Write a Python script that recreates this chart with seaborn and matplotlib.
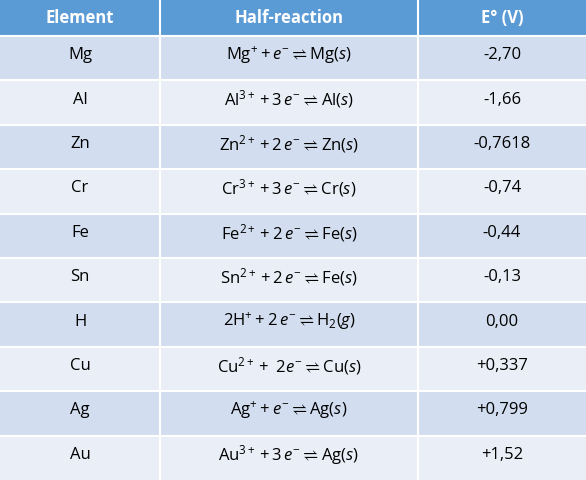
import numpy as np
import matplotlib
matplotlib.use("Agg")
import matplotlib.pyplot as plt
import seaborn as sns
from matplotlib.colors import ListedColormap

headers = ["Element", "Half-reaction", "E° (V)"]
elements = ["Mg", "Al", "Zn", "Cr", "Fe", "Sn", "H", "Cu", "Ag", "Au"]
reactions = [
    r"$\mathrm{Mg^{+}} + \mathit{e^{-}} \rightleftharpoons \mathrm{Mg}(\mathit{s})$",
    r"$\mathrm{Al^{3+}} + 3\,\mathit{e^{-}} \rightleftharpoons \mathrm{Al}(\mathit{s})$",
    r"$\mathrm{Zn^{2+}} + 2\,\mathit{e^{-}} \rightleftharpoons \mathrm{Zn}(\mathit{s})$",
    r"$\mathrm{Cr^{3+}} + 3\,\mathit{e^{-}} \rightleftharpoons \mathrm{Cr}(\mathit{s})$",
    r"$\mathrm{Fe^{2+}} + 2\,\mathit{e^{-}} \rightleftharpoons \mathrm{Fe}(\mathit{s})$",
    r"$\mathrm{Sn^{2+}} + 2\,\mathit{e^{-}} \rightleftharpoons \mathrm{Fe}(\mathit{s})$",
    r"$\mathrm{2H^{+}} + 2\,\mathit{e^{-}} \rightleftharpoons \mathrm{H_2}(\mathit{g})$",
    r"$\mathrm{Cu^{2+}} +\ 2\mathit{e^{-}} \rightleftharpoons \mathrm{Cu}(\mathit{s})$",
    r"$\mathrm{Ag^{+}} + \mathit{e^{-}} \rightleftharpoons \mathrm{Ag}(\mathit{s})$",
    r"$\mathrm{Au^{3+}} + 3\,\mathit{e^{-}} \rightleftharpoons \mathrm{Ag}(\mathit{s})$",
]
potentials = ["-2,70", "-1,66", "-0,7618", "-0,74", "-0,44", "-0,13", "0,00",
              "+0,337", "+0,799", "+1,52"]

W, H = 586, 480
col_edges = [0, 160, 418, 586]
row_edges = [0, 36] + [int(round(36 + 44.4 * i)) for i in range(1, 11)]
row_edges[-1] = H

grid = np.zeros((H, W))
for i in range(1, 11):
    grid[row_edges[i]:row_edges[i + 1], :] = 1 if i % 2 == 1 else 2

plt.rcParams['font.family'] = ['Open Sans', 'DejaVu Sans']
plt.rcParams['mathtext.fontset'] = 'custom'
plt.rcParams['mathtext.rm'] = 'Open Sans'
plt.rcParams['mathtext.it'] = 'Open Sans:italic'
plt.rcParams['mathtext.fallback'] = 'stix'

fig = plt.figure(figsize=(5.86, 4.8), dpi=100)
ax = fig.add_axes([0, 0, 1, 1])
cmap = ListedColormap(["#5B9BD5", "#D2DEEF", "#EAEFF7"])
sns.heatmap(grid, ax=ax, cmap=cmap, vmin=-0.5, vmax=2.5, cbar=False,
            xticklabels=False, yticklabels=False, rasterized=True)

for x in col_edges[1:-1]:
    ax.plot([x, x], [0, H], color="white", lw=1.5)
for y in row_edges[1:-1]:
    ax.plot([0, W], [y, y], color="white", lw=1.5)

centers_x = [(col_edges[j] + col_edges[j + 1]) / 2 for j in range(3)]
for j, h in enumerate(headers):
    ax.text(centers_x[j], row_edges[1] / 2, h, ha="center", va="center",
            color="black" if False else "white", fontsize=12, fontweight="bold")
for i in range(10):
    yc = (row_edges[i + 1] + row_edges[i + 2]) / 2 - 3
    ax.text(centers_x[0], yc, elements[i], ha="center", va="center", fontsize=12)
    ax.text(centers_x[1], yc, reactions[i], ha="center", va="center", fontsize=12)
    ax.text(centers_x[2], yc, potentials[i], ha="center", va="center", fontsize=12)

ax.set_xlim(0, W)
ax.set_ylim(H, 0)
ax.axis("off")
fig.savefig("out.png", dpi=100)
